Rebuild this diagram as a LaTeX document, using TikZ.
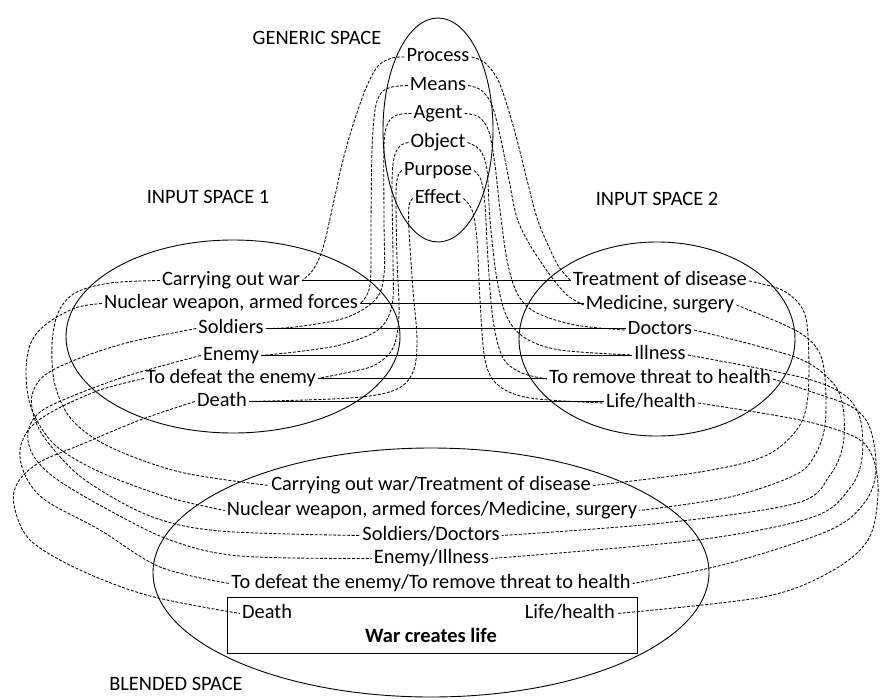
\documentclass[tikz,border=0pt]{standalone}
\usepackage{fontspec}
\setmainfont{Carlito}
\begin{document}
\begin{tikzpicture}[x=1pt,y=-1pt,
  txt/.style={inner xsep=2pt,inner ysep=0pt,text height=13pt,text depth=4pt,
              font=\fontsize{20.4}{24}\selectfont},
  space/.style={line width=0.9pt},
  link/.style={line width=1.1pt},
  conn/.style={line width=0.85pt,dash pattern=on 3pt off 1.6pt},
  curve/.style={smooth,tension=0.55}]
\useasboundingbox (0,0) rectangle (880,699);

% the four mental spaces
\draw[space] (438,130) ellipse [x radius=55, y radius=112];
\draw[space] (233,336.5) ellipse [x radius=167, y radius=96.5];
\draw[space] (657,339) ellipse [x radius=138, y radius=97];
\draw[space] (431,572.5) ellipse [x radius=278, y radius=124.5];

% space labels
\node[txt] (lGen) at (317,39.5) {GENERIC SPACE};
\node[txt] (lIn1) at (208,199) {INPUT SPACE 1};
\node[txt] (lIn2) at (657,201) {INPUT SPACE 2};
\node[txt,text depth=0pt] (lBlend) at (176,684) {BLENDED SPACE};

% generic space
\node[txt] (gProc)  at (438,57)    {Process};
\node[txt] (gMeans) at (438,85.5)  {Means};
\node[txt] (gAgent) at (438,113.5) {Agent};
\node[txt] (gObj)   at (438,142.5) {Object};
\node[txt] (gPurp)  at (438,170.5) {Purpose};
\node[txt] (gEff)   at (438,198.5) {Effect};

% input space 1: war
\node[txt] (aWar)   at (231,280.5) {Carrying out war};
\node[txt] (aWeap)  at (231,303.5) {Nuclear weapon, armed forces};
\node[txt] (aSold)  at (231,328.5) {Soldiers};
\node[txt] (aEnemy) at (231,355.5) {Enemy};
\node[txt] (aGoal)  at (231,378.5) {To defeat the enemy};
\node[txt] (aDeath) at (222,401.5) {Death};

% input space 2: medicine
\node[txt] (bTreat) at (660,281)   {Treatment of disease};
\node[txt] (bMed)   at (660,305)   {Medicine, surgery};
\node[txt] (bDoc)   at (660,330)   {Doctors};
\node[txt] (bIll)   at (660,355)   {Illness};
\node[txt] (bGoal)  at (660,379)   {To remove threat to health};
\node[txt] (bLife)  at (651,403)   {Life/health};

% blended space
\node[txt] (cWar)   at (431,485.5) {Carrying out war/Treatment of disease};
\node[txt] (cWeap)  at (432,510.5) {Nuclear weapon, armed forces/Medicine, surgery};
\node[txt] (cSold)  at (431,535.5) {Soldiers/Doctors};
\node[txt] (cEnemy) at (431.5,558.5) {Enemy/Illness};
\node[txt] (cGoal)  at (431,583.5) {To defeat the enemy/To remove threat to health};
\node[draw,line width=1pt,minimum width=410pt,minimum height=56pt,inner sep=0pt] (box) at (432,625) {};
\node[txt,anchor=west] (cDeath) at (240,613.5) {Death};
\node[txt,anchor=east] (cLife)  at (617,613.5) {Life/health};
\node[txt,font=\fontsize{20.4}{24}\selectfont\bfseries] (cTitle) at (431,638) {War creates life};

% cross-space mappings between the inputs
\foreach \l/\r in {aWar/bTreat,aWeap/bMed,aSold/bDoc,aEnemy/bIll,aGoal/bGoal,aDeath/bLife}
  \draw[link] (\l.east) -- (\l.east -| \r.west);

% generic space -> input space 1
\draw[conn] plot[curve] coordinates {(gProc.west) (392,58) (378,66) (366,88) (353,125) (343,160) (333,205) (323,248) (313,270) (aWar.east)};
\draw[conn] plot[curve] coordinates {(gMeans.west) (392,87) (381,93) (375,110) (372,150) (371,220) (370,285) (aWeap.east)};
\draw[conn] plot[curve] coordinates {(gAgent.west) (397,115) (388,123) (384,145) (384,220) (384,275) (375,300) (345,318) (295,327) (aSold.east)};
\draw[conn] plot[curve] coordinates {(gObj.west) (400,146) (394,158) (392,185) (393,260) (392,305) (378,330) (340,345) (295,352) (aEnemy.east)};
\draw[conn] plot[curve] coordinates {(gPurp.west) (398,176) (396,195) (397,260) (399,315) (393,348) (375,365) (350,372) (aGoal.east)};
\draw[conn] plot[curve] coordinates {(gEff.west) (409,206) (409,230) (413,290) (417,340) (413,372) (395,390) (350,398) (aDeath.east)};

% generic space -> input space 2
\draw[conn] plot[curve] coordinates {(gProc.east) (484,62) (497,78) (507,105) (517,140) (527,180) (537,218) (548,245) (559,267) (bTreat.west)};
\draw[conn] plot[curve] coordinates {(gMeans.east) (481,90) (492,105) (501,140) (509,180) (517,218) (530,245) (550,275) (567,295) (bMed.west)};
\draw[conn] plot[curve] coordinates {(gAgent.east) (479,117) (489,132) (495,165) (500,210) (507,260) (517,293) (535,312) (575,325) (bDoc.west)};
\draw[conn] plot[curve] coordinates {(gObj.east) (480,150) (487,170) (490,220) (497,280) (507,317) (525,338) (560,350) (bIll.west)};
\draw[conn] plot[curve] coordinates {(gPurp.east) (481,180) (485,205) (488,260) (493,320) (503,358) (522,373) (bGoal.west)};
\draw[conn] plot[curve] coordinates {(gEff.east) (472,210) (477,240) (480,300) (485,360) (498,385) (530,398) (bLife.west)};

% input space 1 -> blend
\draw[conn] plot[curve] coordinates {(aWar.west) (110,283) (75,293) (58,313) (52,345) (55,385) (72,420) (110,447) (180,472) (cWar.west)};
\draw[conn] plot[curve] coordinates {(aWeap.west) (75,308) (45,325) (30,345) (26,375) (32,410) (55,445) (100,472) (167,497) (cWeap.west)};
\draw[conn] plot[curve] coordinates {(aSold.west) (130,342) (80,358) (45,375) (32,395) (35,420) (50,445) (85,480) (150,516) (220,531) (cSold.west)};
\draw[conn] plot[curve] coordinates {(aEnemy.west) (130,375) (75,395) (40,412) (28,432) (33,455) (55,478) (105,508) (170,540) (240,556) (cEnemy.west)};
\draw[conn] plot[curve] coordinates {(aGoal.west) (100,390) (55,410) (30,428) (20,450) (25,475) (45,500) (100,530) (160,567) (cGoal.west)};
\draw[conn] plot[curve] coordinates {(aDeath.west) (140,420) (80,445) (40,462) (18,482) (14,505) (30,540) (80,570) (150,596) (cDeath.west)};

% input space 2 -> blend
\draw[conn] plot[curve] coordinates {(bTreat.east) (782,290) (802,308) (808,335) (808,395) (798,428) (765,456) (700,472) (cWar.east)};
\draw[conn] plot[curve] coordinates {(bMed.east) (795,330) (818,350) (825,378) (825,425) (815,455) (795,475) (730,497) (cWeap.east)};
\draw[conn] plot[curve] coordinates {(bDoc.east) (795,357) (832,382) (843,407) (843,445) (830,475) (797,503) (663,523) (cSold.east)};
\draw[conn] plot[curve] coordinates {(bIll.east) (800,377) (843,394) (860,418) (862,458) (850,488) (813,517) (697,540) (cEnemy.east)};
\draw[conn] plot[curve] coordinates {(bGoal.east) (812,392) (852,407) (870,428) (876,470) (865,502) (830,530) (730,563) (cGoal.east)};
\draw[conn] plot[curve] coordinates {(bLife.east) (800,420) (855,437) (873,458) (878,495) (868,540) (830,572) (763,597) (cLife.east)};
\end{tikzpicture}
\end{document}
